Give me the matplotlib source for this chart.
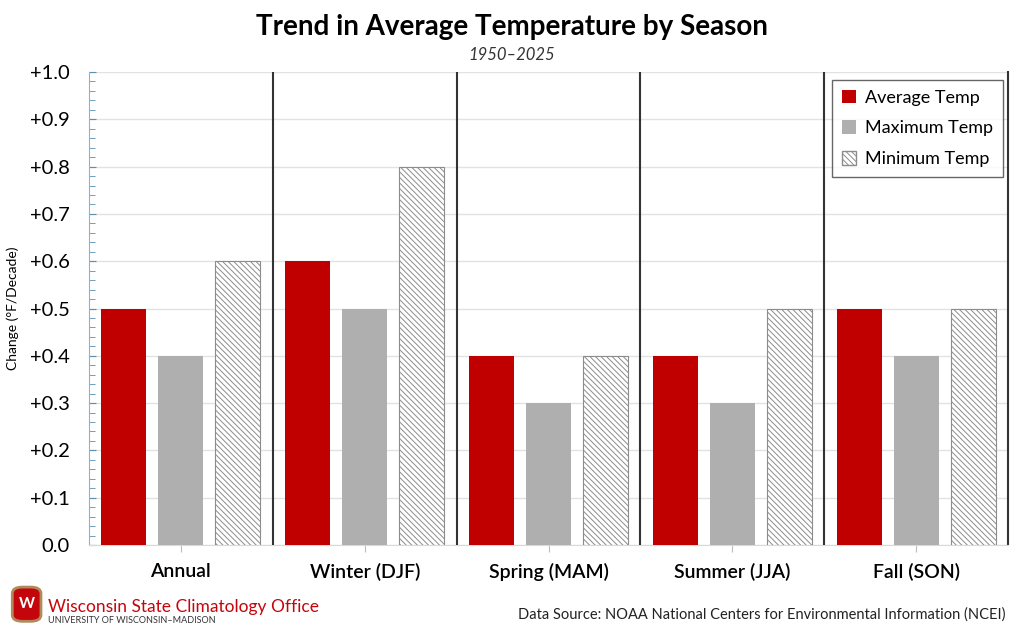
import numpy as np
import matplotlib
matplotlib.use("Agg")
import matplotlib.pyplot as plt
from matplotlib.patches import Patch, FancyBboxPatch
from matplotlib.ticker import MultipleLocator

# data
seasons = ["Annual", "Winter (DJF)", "Spring (MAM)", "Summer (JJA)", "Fall (SON)"]
avg_temp = [0.5, 0.6, 0.4, 0.4, 0.5]
max_temp = [0.4, 0.5, 0.3, 0.3, 0.4]
min_temp = [0.6, 0.8, 0.4, 0.5, 0.5]
yticks = [0.0, 0.1, 0.2, 0.3, 0.4, 0.5, 0.6, 0.7, 0.8, 0.9, 1.0]
ytick_labels = ["0.0"] + ["+%.1f" % v for v in yticks[1:]]

plt.rcParams["font.family"] = ["Lato", "DejaVu Sans"]
plt.rcParams["hatch.linewidth"] = 0.7
plt.rcParams["hatch.color"] = "#7a7a7a"

fig = plt.figure(figsize=(10.24, 6.34), dpi=100)
ax = fig.add_axes([0.0869, 0.1404, 0.8975, 0.746])

x = np.arange(len(seasons))
w = 0.245
off = 0.31
hatch = "\\\\\\\\\\\\"
ax.bar(x - off, avg_temp, w, color="#c00000", zorder=3)
ax.bar(x, max_temp, w, color="#afafaf", zorder=3)
ax.bar(x + off, min_temp, w, color="white", edgecolor="#8c8c8c", hatch=hatch,
       linewidth=0.8, zorder=3)

ax.set_xlim(-0.5, len(seasons) - 0.5)
ax.set_ylim(0, 1.0)
ax.set_yticks(yticks)
ax.set_yticklabels(ytick_labels, fontsize=14.5)
ax.yaxis.set_minor_locator(MultipleLocator(0.02))
ax.tick_params(axis="y", which="major", length=5, direction="in", color="#5b8fb0", pad=14)
ax.tick_params(axis="y", which="minor", length=4, direction="in", color="#5b8fb0")
ax.set_xticks(x)
ax.set_xticklabels(seasons, fontsize=14, fontweight="semibold")
ax.tick_params(axis="x", length=5, color="#bdbdbd", pad=8)
ax.grid(axis="y", color="#e2e2e2", linewidth=1, zorder=0)

ax.spines["top"].set_visible(False)
ax.spines["left"].set_color("#8fb3c9")
ax.spines["bottom"].set_color("#d9d9d9")
ax.spines["right"].set_color("#333333")
ax.spines["right"].set_linewidth(1.5)

# separators between seasons
for xs in x[:-1] + 0.5:
    ax.axvline(xs, color="#333333", linewidth=1.5, zorder=4)

ax.set_ylabel("Change (°F/Decade)", fontsize=10, labelpad=8)

handles = [Patch(facecolor="#c00000", label="Average Temp"),
           Patch(facecolor="#afafaf", label="Maximum Temp"),
           Patch(facecolor="white", edgecolor="#8c8c8c", hatch=hatch, label="Minimum Temp")]
leg = ax.legend(handles=handles, loc="upper right", bbox_to_anchor=(0.9945, 0.984),
                fontsize=13, frameon=True, fancybox=False, handlelength=0.8,
                handleheight=0.8, handletextpad=0.5, labelspacing=0.8,
                borderpad=0.55, borderaxespad=0)
leg.get_frame().set_edgecolor("#404040")
leg.get_frame().set_linewidth(1.0)
leg.set_zorder(5)

fig.text(0.5, 0.957, "Trend in Average Temperature by Season", ha="center", va="center",
         fontsize=20, fontweight="bold")
fig.text(0.5, 0.913, "1950\u20132025", ha="center", va="center", fontsize=12, style="italic",
         color="#333333")

# footer
fig.text(0.982, 0.03, "Data Source: NOAA National Centers for Environmental Information (NCEI)",
         ha="right", va="center", fontsize=10.5, color="#222222")
crest = FancyBboxPatch((0.014, 0.022), 0.024, 0.05, boxstyle="round,pad=0.002,rounding_size=0.01",
                       transform=fig.transFigure, facecolor="#c5050c", edgecolor="#b08a5a",
                       linewidth=2, zorder=5)
fig.patches.append(crest)
fig.text(0.026, 0.047, "W", ha="center", va="center", fontsize=11, fontweight="bold",
         color="white", zorder=6)
fig.text(0.047, 0.043, "Wisconsin State Climatology Office", ha="left", va="center",
         fontsize=12.5, color="#c5050c")
fig.text(0.047, 0.021, "UNIVERSITY OF WISCONSIN\u2013MADISON", ha="left", va="center",
         fontsize=6.5, color="#333333")

fig.savefig("out.png", dpi=100)
